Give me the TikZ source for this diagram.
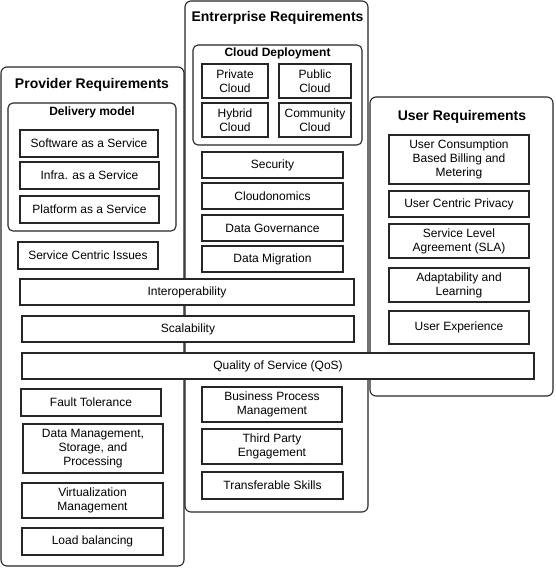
\documentclass[tikz,border=0pt]{standalone}
\usepackage{fontspec}
\setmainfont{Liberation Sans}
\begin{document}
\begin{tikzpicture}[x=1pt,y=-1pt,
  cont/.style={draw=black!85, line width=1.1pt, rounded corners=6pt, fill=white, inner sep=0pt},
  sub/.style={draw=black!85, line width=1.1pt, rounded corners=5pt, fill=white, inner sep=0pt},
  bx/.style={draw=black!85, line width=1.1pt, fill=white, inner sep=0pt, align=center,
    font=\fontsize{12}{14}\selectfont},
  ttl/.style={inner sep=0pt, font=\fontsize{14}{17}\selectfont\bfseries},
  stl/.style={inner sep=0pt, font=\fontsize{12}{14}\selectfont\bfseries}]
\useasboundingbox (0,0) rectangle (555,568);
% containers
\node[cont, minimum width=183pt, minimum height=499pt] (prov) at (92.5,316.5) {};
\node[cont, minimum width=183pt, minimum height=511pt] (ent) at (276.5,256.5) {};
\node[cont, minimum width=183pt, minimum height=299pt] (usr) at (461.5,246.5) {};
\node[ttl] (provt) at (92,84.5) {Provider Requirements};
\node[ttl] (entt) at (277.5,17.5) {Entrerprise Requirements};
\node[ttl] (usrt) at (462,116.5) {User Requirements};
% sub containers
\node[sub, minimum width=168pt, minimum height=128pt] (deliv) at (92,167) {};
\node[stl] (delivt) at (92,112) {Delivery model};
\node[sub, minimum width=169pt, minimum height=100pt] (cloud) at (277.5,95) {};
\node[stl] (cloudt) at (277.5,53) {Cloud Deployment};
% provider boxes
\node[bx, minimum width=138pt, minimum height=27pt] (saas) at (89,143.5) {Software as a Service};
\node[bx, minimum width=139pt, minimum height=27pt] (iaas) at (89.5,175.5) {Infra. as a Service};
\node[bx, minimum width=139pt, minimum height=27pt] (paas) at (89.5,209.5) {Platform as a Service};
\node[bx, minimum width=140pt, minimum height=27pt] (sci) at (88,255.5) {Service Centric Issues};
% cloud boxes
\node[bx, minimum width=66pt, minimum height=34pt] (priv) at (235,81) {Private\\Cloud};
\node[bx, minimum width=66pt, minimum height=34pt] (hyb) at (235,120) {Hybrid\\Cloud};
\node[bx, minimum width=72pt, minimum height=34pt] (pub) at (315,81) {Public\\Cloud};
\node[bx, minimum width=72pt, minimum height=34pt] (comm) at (315,120) {Community\\Cloud};
% enterprise boxes
\node[bx, minimum width=141pt, minimum height=26pt] (sec) at (272.5,165) {Security};
\node[bx, minimum width=141pt, minimum height=26pt] (cldn) at (272.5,196) {Cloudonomics};
\node[bx, minimum width=141pt, minimum height=26pt] (dgov) at (272.5,228) {Data Governance};
\node[bx, minimum width=141pt, minimum height=26pt] (dmig) at (272.5,259) {Data Migration};
% wide boxes
\node[bx, minimum width=334pt, minimum height=26pt] (inter) at (187,292) {Interoperability};
\node[bx, minimum width=332pt, minimum height=26pt] (scal) at (188,329) {Scalability};
\node[bx, minimum width=512pt, minimum height=26pt] (qos) at (278,366) {Quality of Service (QoS)};
% provider lower
\node[bx, minimum width=140pt, minimum height=27pt] (fault) at (91,402.5) {Fault Tolerance};
\node[bx, minimum width=140pt, minimum height=49pt] (dman) at (93,448.5) {Data Management,\\Storage, and\\Processing};
\node[bx, minimum width=141pt, minimum height=35pt] (virt) at (92.5,500.5) {Virtualization\\Management};
\node[bx, minimum width=141pt, minimum height=27pt] (load) at (92.5,541.5) {Load balancing};
% enterprise lower
\node[bx, minimum width=140pt, minimum height=35pt] (bpm) at (272,404.5) {Business Process\\Management};
\node[bx, minimum width=140pt, minimum height=35pt] (tpe) at (272,446.5) {Third Party\\Engagement};
\node[bx, minimum width=141pt, minimum height=27pt] (tsk) at (272.5,485.5) {Transferable Skills};
% user boxes
\node[bx, minimum width=140pt, minimum height=49pt] (ucb) at (459,159.5) {User Consumption\\Based Billing and\\Metering};
\node[bx, minimum width=140pt, minimum height=26pt] (ucp) at (459,204) {User Centric Privacy};
\node[bx, minimum width=140pt, minimum height=34pt] (sla) at (459,241) {Service Level\\Agreement (SLA)};
\node[bx, minimum width=140pt, minimum height=34pt] (adapt) at (459,285) {Adaptability and\\Learning};
\node[bx, minimum width=140pt, minimum height=33pt] (ux) at (459,327.5) {User Experience};
\end{tikzpicture}
\end{document}
